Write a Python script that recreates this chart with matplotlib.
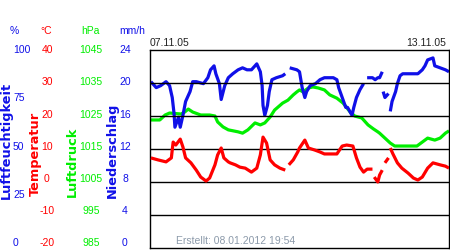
import numpy as np
import matplotlib
matplotlib.use("Agg")
import matplotlib.pyplot as plt

nan = np.nan

# ---- data (hours since 07.11.05 00:00) ----
hum_hours = [0.5, 3.5, 6, 9, 11, 12.5, 13.5, 14, 16, 17,
             18.5, 20, 22.5, 24, 26, 30, 32.5, 34, 36, 37,
             39, 40, 42, 44, 46.5, 49.5, 52, 54.5, 57, 60,
             62, 63, 63.5, 64.5, 66, 67, 68.5, 71, 74.5, 76,
             77, 78.5, 82.5, 84, 85.5, 87, 88, 90, 93, 95.5,
             98, 103, 105, 106, 108, 110, 111, 113.5, 114.5, 116,
             118, 120, 121, 122, 125, 126.5, 128, 129, 130.5, 130.8,
             131, 132, 134, 134.5, 135, 136, 138, 139, 140.5, 142,
             145, 150.5, 153, 154.5, 156, 159, 160, 163, 166, 168]
hum_values = [84, 81, 82, 84, 82, 76, 68, 61, 66, 61,
              67, 74, 79, 84, 84, 83, 86, 90, 92, 88,
              83, 75, 82, 86, 88, 90, 91, 90, 90, 93,
              89, 82, 72, 67, 72, 79, 85, 86, 87, 88,
              nan, 91, 90, 89, 81, 76, 79, 82, 83, 85,
              86, 86, 85, 81, 76, 71, 71, 67, 71, 76,
              80, 83, nan, 86, 86, 85, 86, 86, 89, nan,
              79, 76, 78, nan, 69, 74, 79, 83, 87, 88,
              88, 88, 90, 92, 95, 96, 92, 91, 90, 89]

pres_hours = [0.5, 5.5, 8.5, 11, 17.5, 19.5, 21.5, 24, 28.5, 33.5,
              36.5, 38, 41, 44, 49.5, 52, 55, 59, 62, 64.5,
              67.5, 70, 74.5, 77.5, 80.5, 82.5, 84, 86, 89, 91.5,
              94.5, 98, 101, 105, 108.5, 112.5, 115, 119, 122.5, 125.5,
              128, 129, 132, 135, 137.5, 143, 150, 153, 156, 160,
              163, 166, 168]
pres_values = [1023.8, 1023.8, 1025.3, 1025.9, 1025.6, 1026.2, 1027.1, 1026.2, 1025.3, 1025.3,
               1025.0, 1023.2, 1021.7, 1020.8, 1020.2, 1019.8, 1020.8, 1022.9, 1022.3, 1022.9,
               1024.7, 1026.8, 1028.9, 1029.8, 1031.4, 1032.3, 1032.9, 1032.3, 1033.5, 1033.8,
               1033.5, 1032.9, 1031.4, 1030.4, 1028.9, 1026.2, 1025.0, 1024.4, 1022.3, 1021.1,
               1020.2, 1019.8, 1018.3, 1016.8, 1015.9, 1015.9, 1015.9, 1017.1, 1018.3, 1017.7,
               1018.3, 1019.8, 1020.5]

temp_hours = [0.5, 4.5, 9, 12, 13, 14.5, 17, 18.5, 20, 23,
              26, 28.5, 31.5, 33.5, 36.5, 38, 40, 41.5, 44, 45,
              48, 50.5, 53.5, 57, 60, 62, 63.5, 65.5, 67.5, 70,
              73, 76, 77, 78, 80.5, 83, 84, 87, 89, 92.5,
              95.5, 98, 105, 108, 110.5, 114, 116, 118, 120, 122,
              125, 125.5, 126, 128, 129, 130.5, 131, 132, 134, 134.5,
              135, 136.5, 139, 141.5, 145, 148, 150.5, 153, 156, 159,
              163, 166, 168]
temp_values = [7.3, 6.7, 6.1, 7.3, 12.1, 11.2, 13.0, 10.6, 7.3, 5.8,
               3.6, 1.5, 0.3, 1.2, 5.2, 8.2, 10.3, 7.3, 6.1, 5.8,
               5.2, 4.5, 4.2, 3.0, 4.2, 8.2, 13.6, 11.8, 6.7, 5.2,
               4.2, 3.6, nan, 5.2, 6.7, 9.1, 10.3, 12.7, 10.3, 9.7,
               9.1, 8.5, 8.5, 10.9, 11.2, 10.9, 7.3, 4.5, 3.0, 3.9,
               3.9, nan, 1.5, 0.0, 2.1, 3.6, nan, 5.8, 7.3, nan,
               10.3, 8.5, 5.8, 4.2, 2.7, 1.2, 0.6, 1.5, 4.2, 5.8,
               5.2, 4.8, 4.2]

hum_ticks = ["100", "75", "50", "25", "0"]
temp_ticks = ["40", "30", "20", "10", "0", "-10", "-20"]
pres_ticks = ["1045", "1035", "1025", "1015", "1005", "995", "985"]
rain_ticks = ["24", "20", "16", "12", "8", "4", "0"]

date_start = "07.11.05"
date_end = "13.11.05"
created = "Erstellt: 08.01.2012 19:54"

BLUE = "#1010e8"
RED = "#ff0000"
GREEN = "#00ee00"

W, H = 450, 250
fig = plt.figure(figsize=(W / 100, H / 100), dpi=100)
fig.patch.set_facecolor("white")

def fx(px):
    return px / W

def fy(py):
    return 1 - py / H

ax = fig.add_axes([fx(150), fy(248), 299 / W, 198 / H])
ax_p = ax.twinx()
ax_h = ax.twinx()

ax.set_ylim(-20, 40)
ax_p.set_ylim(985, 1045)
ax_h.set_ylim(0, 100)
for a in (ax, ax_p, ax_h):
    a.set_xlim(0, 168)
    a.tick_params(left=False, right=False, bottom=False, top=False,
                  labelleft=False, labelright=False, labelbottom=False)
    a.set_xticks([])
for a in (ax_p, ax_h):
    for s in a.spines.values():
        s.set_visible(False)
for s in ax.spines.values():
    s.set_color("black")
    s.set_linewidth(1.0)

ax.set_yticks([-10, 0, 10, 20, 30])
ax.yaxis.grid(True, color="black", linewidth=1.0)
ax.set_axisbelow(True)

lw = 2.3
ax_p.plot(pres_hours, pres_values, color=GREEN, lw=lw, solid_capstyle="butt", zorder=3)
ax_h.plot(hum_hours, hum_values, color=BLUE, lw=lw, solid_capstyle="butt", zorder=3)
ax.plot(temp_hours, temp_values, color=RED, lw=lw, solid_capstyle="butt", zorder=3)
ax.set_zorder(3)
ax.patch.set_visible(False)
ax_p.set_zorder(1)
ax_h.set_zorder(2)

tf = dict(family="Liberation Sans", fontsize=7.5)

# header units
fig.text(fx(14), fy(30.5), "%", color=BLUE, ha="center", va="center", **tf)
fig.text(fx(46.5), fy(30.5), "°C", color=RED, ha="center", va="center", **tf)
fig.text(fx(90), fy(30.5), "hPa", color=GREEN, ha="center", va="center", **tf)
fig.text(fx(132.5), fy(30.5), "mm/h", color=BLUE, ha="center", va="center", **tf)

def col(labels, x, color, ha="center"):
    n = len(labels)
    for i, lab in enumerate(labels):
        y = 50 + i * 193.5 / (n - 1)
        fig.text(fx(x), fy(y), lab, color=color, ha=ha, va="center", **tf)

col(hum_ticks, 13, BLUE, ha="left")
col(temp_ticks, 47, RED)
col(pres_ticks, 91, GREEN)
col(rain_ticks, 125, BLUE)

vf = dict(family="DejaVu Sans", fontweight="bold", fontsize=9.3, rotation=90,
          ha="center", va="bottom")
fig.text(fx(6.0), fy(199), "Luftfeuchtigkeit", color=BLUE, **vf)
fig.text(fx(35.5), fy(196), "Temperatur", color=RED, **vf)
fig.text(fx(72), fy(197), "Luftdruck", color=GREEN, **vf)
fig.text(fx(112.5), fy(198), "Niederschlag", color=BLUE, **vf)

fig.text(fx(150), fy(43), date_start, color="#222222", ha="left", va="center", **tf)
fig.text(fx(446), fy(43), date_end, color="#222222", ha="right", va="center", **tf)
fig.text(fx(236), fy(241), created, color="#8c9aaa", ha="center", va="center", **tf)

fig.savefig("out.png", dpi=100, facecolor="white")
